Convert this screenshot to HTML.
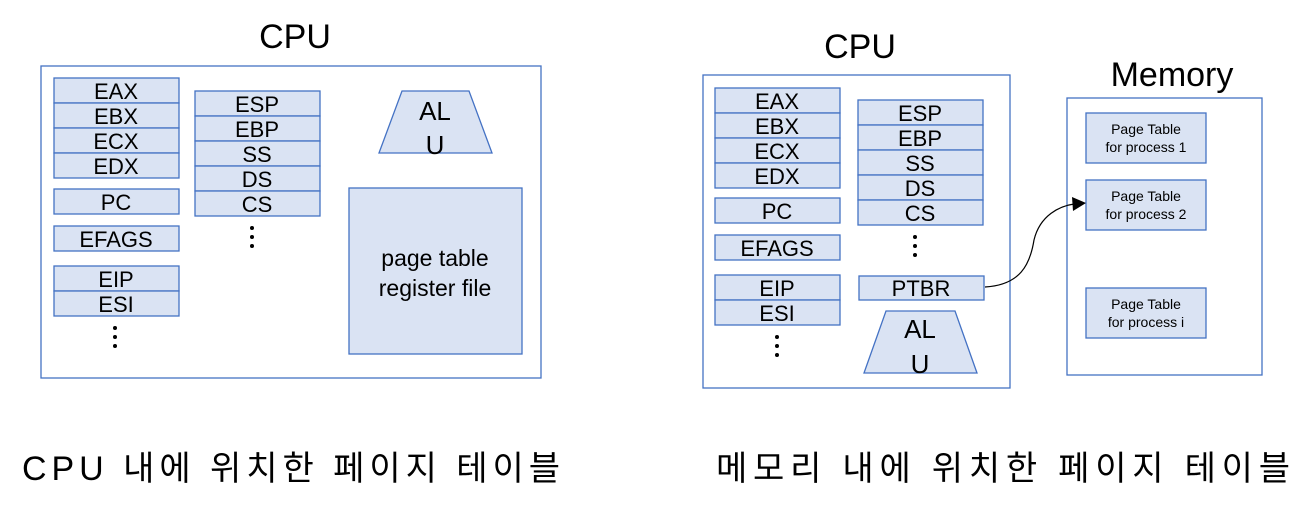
<!DOCTYPE html>
<html><head><meta charset="utf-8"><style>
html,body{margin:0;padding:0;background:#fff;}
svg{display:block;}
text{font-family:"Liberation Sans","Noto Sans CJK KR",sans-serif;fill:#000;}
</style></head><body>
<svg width="1314" height="514" viewBox="0 0 1314 514" xmlns="http://www.w3.org/2000/svg">
<g fill="#dae3f3" stroke="#4472c4" stroke-width="1.3">
<!-- left CPU -->
<rect x="41" y="66" width="500" height="312" fill="#fff"/>
<rect x="54" y="78" width="125" height="25"/><rect x="54" y="103" width="125" height="25"/>
<rect x="54" y="128" width="125" height="25"/><rect x="54" y="153" width="125" height="25"/>
<rect x="54" y="189" width="125" height="25"/><rect x="54" y="226" width="125" height="25"/>
<rect x="54" y="266" width="125" height="25"/><rect x="54" y="291" width="125" height="25"/>
<rect x="195" y="91" width="125" height="25"/><rect x="195" y="116" width="125" height="25"/>
<rect x="195" y="141" width="125" height="25"/><rect x="195" y="166" width="125" height="25"/>
<rect x="195" y="191" width="125" height="25"/>
<polygon points="402,91 469,91 492,153 379,153"/>
<rect x="349" y="188" width="173" height="166"/>
<!-- right CPU -->
<rect x="703" y="75" width="307" height="313" fill="#fff"/>
<rect x="715" y="88" width="125" height="25"/><rect x="715" y="113" width="125" height="25"/>
<rect x="715" y="138" width="125" height="25"/><rect x="715" y="163" width="125" height="25"/>
<rect x="715" y="198" width="125" height="25"/><rect x="715" y="235" width="125" height="25"/>
<rect x="715" y="275" width="125" height="25"/><rect x="715" y="300" width="125" height="25"/>
<rect x="858" y="100" width="125" height="25"/><rect x="858" y="125" width="125" height="25"/>
<rect x="858" y="150" width="125" height="25"/><rect x="858" y="175" width="125" height="25"/>
<rect x="858" y="200" width="125" height="25"/>
<rect x="859" y="276" width="125" height="24"/>
<polygon points="886,311 955,311 977,373 864,373"/>
<!-- memory -->
<rect x="1067" y="98" width="195" height="277" fill="#fff"/>
<rect x="1086" y="113" width="120" height="50"/>
<rect x="1086" y="180" width="120" height="50"/>
<rect x="1086" y="288" width="120" height="50"/>
</g>
<path d="M985,287 C1020,285 1030,265 1034,240 C1040,215 1060,206 1074,204" fill="none" stroke="#000" stroke-width="1.2"/>
<polygon points="1086,203 1072,197 1073,211" fill="#000"/>
<g font-size="22" text-anchor="middle">
<text x="116" y="99">EAX</text><text x="116" y="124">EBX</text><text x="116" y="149">ECX</text><text x="116" y="174">EDX</text>
<text x="116" y="210">PC</text><text x="116" y="247">EFAGS</text><text x="116" y="287">EIP</text><text x="116" y="312">ESI</text>
<text x="257" y="112">ESP</text><text x="257" y="137">EBP</text><text x="257" y="162">SS</text><text x="257" y="187">DS</text><text x="257" y="212">CS</text>
<text x="777" y="109">EAX</text><text x="777" y="134">EBX</text><text x="777" y="159">ECX</text><text x="777" y="184">EDX</text>
<text x="777" y="219">PC</text><text x="777" y="256">EFAGS</text><text x="777" y="296">EIP</text><text x="777" y="321">ESI</text>
<text x="920" y="121">ESP</text><text x="920" y="146">EBP</text><text x="920" y="171">SS</text><text x="920" y="196">DS</text><text x="920" y="221">CS</text>
<text x="921" y="296">PTBR</text>
</g>
<g font-size="26" text-anchor="middle">
<text x="435" y="120">AL</text><text x="435" y="154">U</text>
<text x="920" y="338">AL</text><text x="920" y="373">U</text>
</g>
<g font-size="23" text-anchor="middle">
<text x="435" y="266">page table</text><text x="435" y="296">register file</text>
</g>
<g font-size="14" text-anchor="middle">
<text x="1146" y="134">Page Table</text><text x="1146" y="152">for process 1</text>
<text x="1146" y="201">Page Table</text><text x="1146" y="219">for process 2</text>
<text x="1146" y="309">Page Table</text><text x="1146" y="327">for process i</text>
</g>
<g font-size="34" text-anchor="middle">
<text x="295" y="48">CPU</text><text x="860" y="58">CPU</text><text x="1172" y="86">Memory</text>
</g>
<g fill="#000">
<circle cx="115" cy="328" r="2"/><circle cx="115" cy="337" r="2"/><circle cx="115" cy="346" r="2"/>
<circle cx="252" cy="228" r="2"/><circle cx="252" cy="237" r="2"/><circle cx="252" cy="246" r="2"/>
<circle cx="777" cy="337" r="2"/><circle cx="777" cy="346" r="2"/><circle cx="777" cy="355" r="2"/>
<circle cx="915" cy="237" r="2"/><circle cx="915" cy="246" r="2"/><circle cx="915" cy="255" r="2"/>
</g>
<g font-size="34">
<text x="22" y="480" textLength="538">CPU 내에 위치한 페이지 테이블</text>
<text x="716" y="480" textLength="574">메모리 내에 위치한 페이지 테이블</text>
</g>
</svg>
</body></html>
